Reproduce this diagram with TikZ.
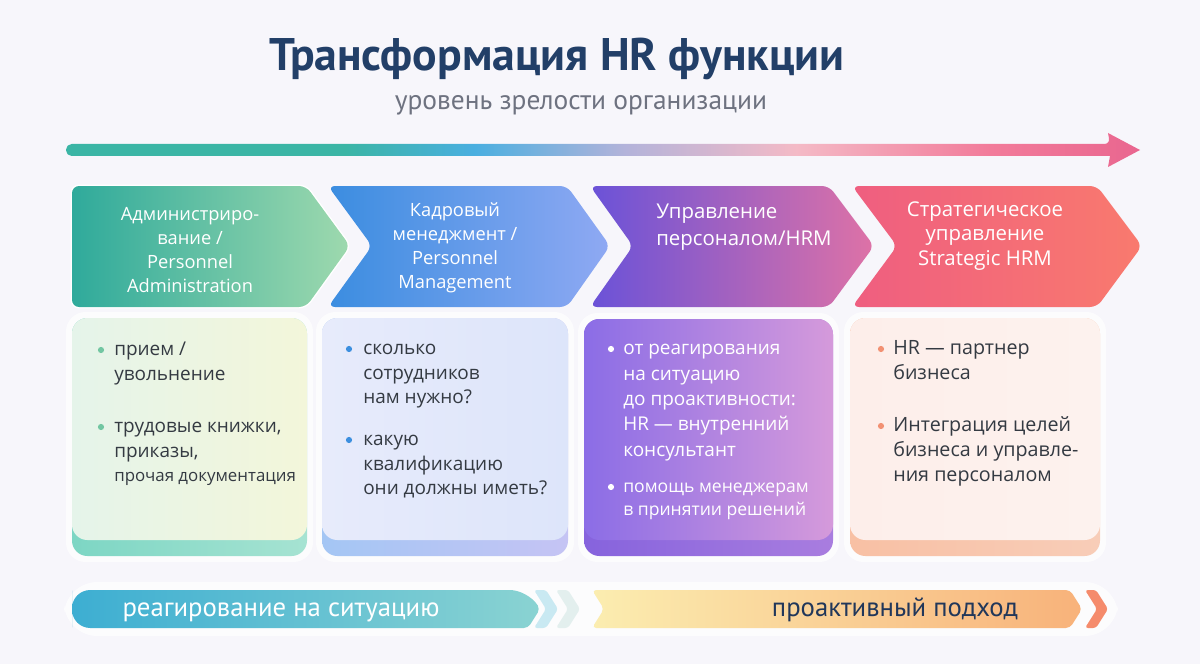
\documentclass[tikz,border=0pt]{standalone}
\usepackage{fontspec}
\setmainfont{Open Sans}
\newfontfamily\ptsans{PT Sans}
\usetikzlibrary{positioning, calc}

% colours
\definecolor{bgcol}{HTML}{F7F6FB}
\definecolor{titlecol}{HTML}{223F68}
\definecolor{subcol}{HTML}{6E7280}
\definecolor{txtcol}{HTML}{343A42}
\definecolor{navycol}{HTML}{21375A}
\definecolor{arrA}{HTML}{3BB5A5}
\definecolor{arrB}{HTML}{4AAFE0}
\definecolor{arrC}{HTML}{B3B3DA}
\definecolor{arrD}{HTML}{F4BAC6}
\definecolor{arrE}{HTML}{F27B9A}
\definecolor{arrF}{HTML}{E9668F}
\definecolor{chA}{HTML}{2FAA9B}
\definecolor{chAr}{HTML}{9ED9AE}
\definecolor{chB}{HTML}{3B8DE0}
\definecolor{chBr}{HTML}{8FA9F3}
\definecolor{chC}{HTML}{6A52D8}
\definecolor{chCr}{HTML}{DE72A6}
\definecolor{chD}{HTML}{EF5E80}
\definecolor{chDr}{HTML}{F97A6E}
\definecolor{cdA}{HTML}{E5F4EA}
\definecolor{cdAr}{HTML}{F3F6DA}
\definecolor{stA}{HTML}{7DD6C4}
\definecolor{stAr}{HTML}{A6E3D2}
\definecolor{cdB}{HTML}{E7EBFB}
\definecolor{cdBr}{HTML}{DDE5FA}
\definecolor{stB}{HTML}{A4C6F4}
\definecolor{stBr}{HTML}{C5C4F4}
\definecolor{cdC}{HTML}{8B6DE6}
\definecolor{cdCr}{HTML}{D59ADB}
\definecolor{stC}{HTML}{8663DD}
\definecolor{stCr}{HTML}{A97DDF}
\definecolor{cdD}{HTML}{FDEEEA}
\definecolor{cdDr}{HTML}{FDF2EE}
\definecolor{stD}{HTML}{F8C0A4}
\definecolor{stDr}{HTML}{F8CDB8}
\definecolor{bulA}{HTML}{72C6A2}
\definecolor{bulB}{HTML}{3C8FDF}
\definecolor{bulD}{HTML}{F29173}
\definecolor{pillL}{HTML}{3DAED2}
\definecolor{pillLr}{HTML}{8AD3D2}
\definecolor{paleA}{HTML}{C9E9F2}
\definecolor{paleB}{HTML}{E3EFEE}
\definecolor{pillR}{HTML}{FBEDB0}
\definecolor{pillRr}{HTML}{F8B27A}
\definecolor{coral}{HTML}{F58B6C}

\pgfdeclarehorizontalshading{maturity}{100bp}{color(0bp)=(arrA); color(25bp)=(arrA); color(38bp)=(arrA); color(44bp)=(arrB); color(51bp)=(arrC); color(59bp)=(arrD); color(68bp)=(arrE); color(75bp)=(arrF); color(100bp)=(arrF)}

\tikzset{
  stagetxt/.style={white, align=center, inner sep=0pt, font=\fontsize{13}{17}\selectfont},
  cardtxt/.style={anchor=north west, align=left, inner sep=0pt, font=\fontsize{13.5}{17.5}\selectfont},
  halo/.style={white, opacity=0.75, rounded corners=14pt},
  bandtxt/.style={inner sep=0pt, anchor=base, font=\ptsans\fontsize{19}{23}\selectfont}
}

\begin{document}
\begin{tikzpicture}[x=0.25mm, y=-0.25mm]

    % ================= background =================
    \fill[bgcol] (0,0) rectangle (1200,664);
    \useasboundingbox (0,0) rectangle (1200,664);

    % ================= title =================
    \node[titlecol, anchor=base, inner sep=0pt, font=\ptsans\bfseries\fontsize{32.5}{38}\selectfont] (title) at (557,71) {Трансформация HR функции};
    \node[subcol, anchor=base, inner sep=0pt, font=\ptsans\fontsize{19.5}{24}\selectfont] (subtitle) at (581,110) {уровень зрелости организации};

    % ================= maturity arrow =================
    \shade[shading=maturity] (1110,144) -- (1108,133) -- (1140,150) -- (1108,167) -- (1110,156) [rounded corners=4pt] -- (66,156) -- (66,144) -- cycle;

    % ================= stages =================
    \draw[white, line width=2pt, rounded corners=5pt] (72,186) -- (306,186) -- (350,246) -- (306,307) -- (72,307) -- cycle;
    \shade[left color=chA, right color=chAr, rounded corners=5pt] (72,186) -- (306,186) -- (350,246) -- (306,307) -- (72,307) -- cycle;
    \shade[left color=chB, right color=chBr, rounded corners=5pt] (328,186) -- (567,186) -- (610,246) -- (567,307) -- (328,307) -- (372,246) -- cycle;
    \shade[left color=chC, right color=chCr, rounded corners=5pt] (590,186) -- (829,186) -- (874,246) -- (829,307) -- (590,307) -- (633,246) -- cycle;
    \shade[left color=chD, right color=chDr, rounded corners=5pt] (852,186) -- (1097,186) -- (1142,246) -- (1097,307) -- (852,307) -- (897,246) -- cycle;

    \node[stagetxt] (stAdm) at (190,250) {Администриро-\\вание /\\Personnel\\Administration};
    \node[stagetxt] (stPM) at (455,248) {Кадровый\\менеджмент /\\Personnel\\Management};
    \node[stagetxt, align=left, anchor=west, font=\fontsize{14.5}{19}\selectfont] (stHRM) at (656,227) {Управление\\персоналом/HRM};
    \node[stagetxt, font=\fontsize{14.5}{17.5}\selectfont] (stSHRM) at (985,236) {Стратегическое\\управление\\Strategic HRM};

    % ================= cards =================
    % card 1
    \fill[halo] (66,312) rectangle (313,562);
    \shade[left color=stA, right color=stAr, rounded corners=11pt] (72,318) rectangle (307,556);
    \shade[left color=cdA, right color=cdAr, rounded corners=11pt] (72,318) rectangle (307,540);
    \node[cardtxt, txtcol] (admA) at (114,338) {\strut прием /\\увольнение};
    \node[cardtxt, txtcol] (admB) at (114,415) {\strut трудовые книжки,\\приказы,\\{\fontsize{12}{17.5}\selectfont прочая документация}};
    \fill[bulA] ($(admA.north west)+(-13,12)$) circle (2.2pt);
    \fill[bulA] ($(admB.north west)+(-13,12)$) circle (2.2pt);

    % card 2
    \fill[halo] (316,312) rectangle (574,562);
    \shade[left color=stB, right color=stBr, rounded corners=11pt] (322,318) rectangle (568,556);
    \shade[left color=cdB, right color=cdBr, rounded corners=11pt] (322,318) rectangle (568,540);
    \node[cardtxt, txtcol] (pmA) at (363,337) {\strut сколько\\сотрудников\\нам нужно?};
    \node[cardtxt, txtcol] (pmB) at (363,428) {\strut какую\\квалификацию\\они должны иметь?};
    \fill[bulB] ($(pmA.north west)+(-14,12)$) circle (2.2pt);
    \fill[bulB] ($(pmB.north west)+(-14,12)$) circle (2.2pt);

    % card 3
    \fill[halo] (578,313) rectangle (839,562);
    \shade[left color=stC, right color=stCr, rounded corners=11pt] (584,319) rectangle (833,556);
    \shade[left color=cdC, right color=cdCr, rounded corners=11pt] (584,319) rectangle (833,540);
    \node[cardtxt, white, font=\fontsize{13.5}{18}\selectfont] (hrmA) at (623,337) {\strut от реагирования\\на ситуацию\\до проактивности:\\HR — внутренний\\консультант};
    \node[cardtxt, white, font=\fontsize{12.5}{16.5}\selectfont] (hrmB) at (623,476) {\strut помощь менеджерам\\в принятии решений};
    \fill[white] ($(hrmA.north west)+(-12,12)$) circle (2.2pt);
    \fill[white] ($(hrmB.north west)+(-12,11)$) circle (2.2pt);

    % card 4
    \fill[halo] (844,312) rectangle (1106,562);
    \shade[left color=stD, right color=stDr, rounded corners=11pt] (850,318) rectangle (1100,556);
    \shade[left color=cdD, right color=cdDr, rounded corners=11pt] (850,318) rectangle (1100,540);
    \node[cardtxt, txtcol, font=\fontsize{14}{17.7}\selectfont] (shrmA) at (893,337) {\strut HR — партнер\\бизнеса};
    \node[cardtxt, txtcol, font=\fontsize{14}{17.7}\selectfont] (shrmB) at (893,414) {\strut Интеграция целей\\бизнеса и управле-\\ния персоналом};
    \fill[bulD] ($(shrmA.north west)+(-12,12)$) circle (2.2pt);
    \fill[bulD] ($(shrmB.north west)+(-12,12)$) circle (2.2pt);

    % ================= approach band =================
    \fill[halo, rounded corners=24pt] (64,582) rectangle (1118,636);
    \shade[left color=pillL, right color=pillLr] (72,609) [rounded corners=13pt] |- (528,590) [rounded corners=3pt] -- (540,609) -- (528,628) [rounded corners=13pt] -| (72,609) -- cycle;
    \fill[paleA, rounded corners=2pt] (534,590) -- (546,590) -- (558,609) -- (546,628) -- (534,628) -- (546,609) -- cycle;
    \fill[paleB, rounded corners=2pt] (556,590) -- (568,590) -- (580,609) -- (568,628) -- (556,628) -- (568,609) -- cycle;
    \shade[left color=pillR, right color=pillRr, rounded corners=3pt] (592,590) -- (1070,590) -- (1082,609) -- (1070,628) -- (592,628) -- (604,609) -- cycle;
    \fill[coral, rounded corners=2pt] (1085,590) -- (1096,590) -- (1108,609) -- (1096,628) -- (1085,628) -- (1097,609) -- cycle;

    \node[bandtxt, white] (reactive) at (281,616) {реагирование на ситуацию};
    \node[bandtxt, navycol] (proactive) at (895,616) {проактивный подход};

\end{tikzpicture}
\end{document}
